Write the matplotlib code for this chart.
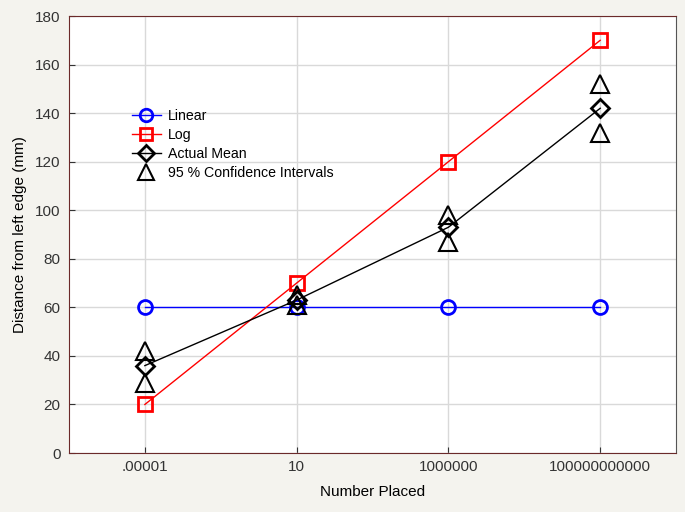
import matplotlib
matplotlib.use("Agg")
import matplotlib.pyplot as plt
import numpy as np

categories = [".00001", "10", "1000000", "100000000000"]
linear = [60, 60, 60, 60]
log = [20, 70, 120, 170]
actual_mean = [36, 63, 93, 142]
ci_upper = [42, 65, 98, 152]
ci_lower = [29, 61, 87, 132]

plt.rcParams['font.family'] = ['Liberation Sans', 'DejaVu Sans']

fig = plt.figure(figsize=(6.85, 5.12), dpi=100, facecolor='#f4f3ee')
ax = fig.add_axes([0.1007, 0.1152, 0.8863, 0.8535])
ax.set_facecolor('white')

x = np.arange(len(categories))
ax.plot(x, linear, color='#0000ff', lw=1.0, marker='o', ms=10, mfc='none', mec='#0000ff', mew=2, label='Linear', zorder=3)
ax.plot(x, log, color='#ff0000', lw=1.0, marker='s', ms=10, mfc='none', mec='#ff0000', mew=2, label='Log', zorder=3)
ax.plot(x, actual_mean, color='black', lw=1.0, marker='D', ms=9, mfc='none', mec='black', mew=2, label='Actual Mean', zorder=4)
ax.plot(x, ci_upper, ls='none', marker='^', ms=13, mfc='none', mec='black', mew=1.5, label='95 % Confidence Intervals', zorder=4)
ax.plot(x, ci_lower, ls='none', marker='^', ms=13, mfc='none', mec='black', mew=1.5, zorder=4)

ax.set_xlim(-0.5, 3.5)
ax.set_ylim(0, 180)
ax.set_yticks(np.arange(0, 181, 20))
ax.set_xticks(x)
ax.set_xticklabels(categories)
ax.grid(True, color='#d9d9d9', lw=1.0)
ax.set_axisbelow(True)
ax.tick_params(axis='both', labelsize=11, colors='#333333', direction='in', length=4, pad=6)
ax.tick_params(axis='x', pad=5)
for s in ['left', 'bottom', 'top']:
    ax.spines[s].set_color('#6b2a2a')
ax.spines['right'].set_color('#555555')

ax.set_xlabel('Number Placed', fontsize=11, labelpad=8)
ax.set_ylabel('Distance from left edge (mm)', fontsize=11, labelpad=6)

leg = ax.legend(loc='upper left', bbox_to_anchor=(0.088, 0.81), frameon=False, fontsize=10.2,
                handlelength=2.0, handletextpad=0.5, labelspacing=0.35, borderpad=0.2, markerscale=0.9)

fig.savefig('out.png', dpi=100, facecolor=fig.get_facecolor())
